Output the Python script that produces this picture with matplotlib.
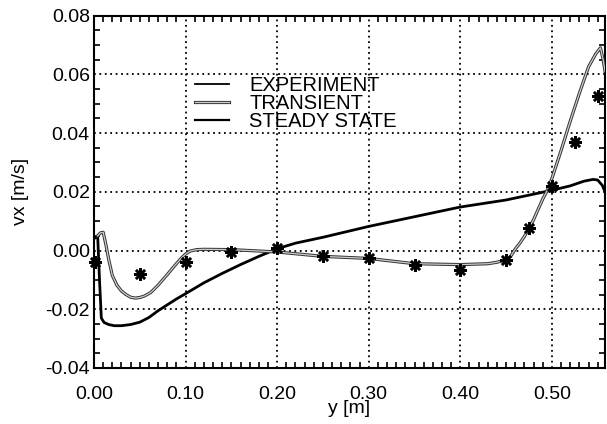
import matplotlib
matplotlib.use("Agg")
import matplotlib.pyplot as plt
from matplotlib.ticker import MultipleLocator
from matplotlib.lines import Line2D

plt.rcParams['font.family'] = ['Liberation Sans', 'DejaVu Sans']

# Experiment (stars)
exp_y = [0.001, 0.05, 0.10, 0.15, 0.20, 0.25, 0.30, 0.35, 0.40, 0.45, 0.475, 0.50, 0.525, 0.55]
exp_v = [-0.004, -0.008, -0.004, -0.0005, 0.0008, -0.002, -0.0027, -0.005, -0.0066, -0.0033, 0.0075, 0.022, 0.037, 0.0526]

# Transient (grey line)
tr_y = [0.004, 0.007, 0.010, 0.013, 0.016, 0.020, 0.025, 0.030, 0.035, 0.040, 0.045, 0.050, 0.055,
        0.062, 0.070, 0.080, 0.088, 0.095, 0.100, 0.105, 0.112, 0.120, 0.150, 0.200, 0.250, 0.300,
        0.350, 0.400, 0.430, 0.440, 0.450, 0.455, 0.460, 0.465, 0.470, 0.475, 0.480, 0.485, 0.490,
        0.495, 0.500, 0.510, 0.520, 0.530, 0.540, 0.548, 0.553, 0.556, 0.558]
tr_v = [0.005, 0.006, 0.0062, 0.002, -0.003, -0.0085, -0.0118, -0.0138, -0.0150, -0.0159, -0.0162, -0.0160, -0.0155,
        -0.0143, -0.0118, -0.0082, -0.0052, -0.0027, -0.0012, -0.0002, 0.0003, 0.0004, 0.0003, -0.0005, -0.0020, -0.0027,
        -0.0045, -0.0048, -0.0045, -0.0040, -0.0032, -0.0020, 0.0005, 0.0025, 0.0048, 0.0075, 0.0105, 0.0140, 0.0175,
        0.0205, 0.0245, 0.0340, 0.0440, 0.0535, 0.0625, 0.0670, 0.0690, 0.0650, 0.0610]

# Steady state (black line)
st_y = [0.0, 0.004, 0.006, 0.008, 0.011, 0.016, 0.022, 0.030, 0.040, 0.050, 0.060, 0.070, 0.080, 0.090,
        0.100, 0.120, 0.140, 0.160, 0.180, 0.200, 0.220, 0.250, 0.300, 0.350, 0.400, 0.450, 0.500,
        0.520, 0.535, 0.545, 0.550, 0.555, 0.558]
st_v = [0.004, 0.005, -0.010, -0.023, -0.0245, -0.0252, -0.0256, -0.0256, -0.0252, -0.0244, -0.0228, -0.0205, -0.0185, -0.0165,
        -0.0147, -0.0110, -0.0078, -0.0048, -0.0020, 0.0006, 0.0025, 0.0045, 0.0082, 0.0115, 0.0148, 0.0172, 0.0205,
        0.0220, 0.0236, 0.0242, 0.0240, 0.0222, 0.0200]

xticks = [0.0, 0.1, 0.2, 0.3, 0.4, 0.5]
xtick_labels = ['0.00', '0.10', '0.20', '0.30', '0.40', '0.50']
yticks = [-0.04, -0.02, 0.0, 0.02, 0.04, 0.06, 0.08]
ytick_labels = ['-0.04', '-0.02', '0.00', '0.02', '0.04', '0.06', '0.08']

fig = plt.figure(figsize=(6.07, 4.24), dpi=100)
ax = fig.add_axes([94/607, 1-368/424, 511/607, (368-15.5)/424])

ax.plot(st_y, st_v, color='black', lw=2.0, zorder=3)
ax.plot(tr_y, tr_v, color='#333333', lw=2.3, zorder=4)
ax.plot(tr_y, tr_v, color='#cccccc', lw=0.9, zorder=5)
ax.plot(exp_y, exp_v, linestyle='none', marker=(8, 2, 0), markersize=9,
        markeredgewidth=1.8, color='black', zorder=6, clip_on=False)

ax.set_xlim(0, 0.558)
ax.set_ylim(-0.04, 0.08)
ax.set_xticks(xticks)
ax.set_xticklabels(xtick_labels)
ax.set_yticks(yticks)
ax.set_yticklabels(ytick_labels)
ax.xaxis.set_minor_locator(MultipleLocator(0.01))
ax.yaxis.set_minor_locator(MultipleLocator(0.005))
ax.tick_params(which='both', direction='in', top=True, right=True, labelsize=14, width=1.2)
ax.tick_params(which='major', length=0)
ax.tick_params(which='minor', length=4)
ax.tick_params(axis='x', which='major', pad=13)
ax.tick_params(axis='y', which='major', pad=3)
ax.grid(True, which='major', color='black', linestyle=(0, (1, 2)), linewidth=1.3)
for s in ax.spines.values():
    s.set_linewidth(1.5)

ax.set_xlabel('y [m]', fontsize=14, labelpad=-2)
ax.set_ylabel('vx [m/s]', fontsize=14, labelpad=12)

h_exp = Line2D([], [], color='black', lw=1.3)
h_tr = (Line2D([], [], color='#333333', lw=2.3), Line2D([], [], color='#cccccc', lw=0.9))
h_st = Line2D([], [], color='black', lw=1.6)
leg = ax.legend([h_exp, h_tr, h_st], ['EXPERIMENT', 'TRANSIENT', 'STEADY STATE'],
                loc='upper left', bbox_to_anchor=((195-94)/511, (368-76)/352.5),
                frameon=False, fontsize=14.5, handlelength=1.7, handletextpad=1.0,
                labelspacing=-0.05, borderpad=0, borderaxespad=0)
leg.set_zorder(10)

fig.savefig('out.png', dpi=100)
